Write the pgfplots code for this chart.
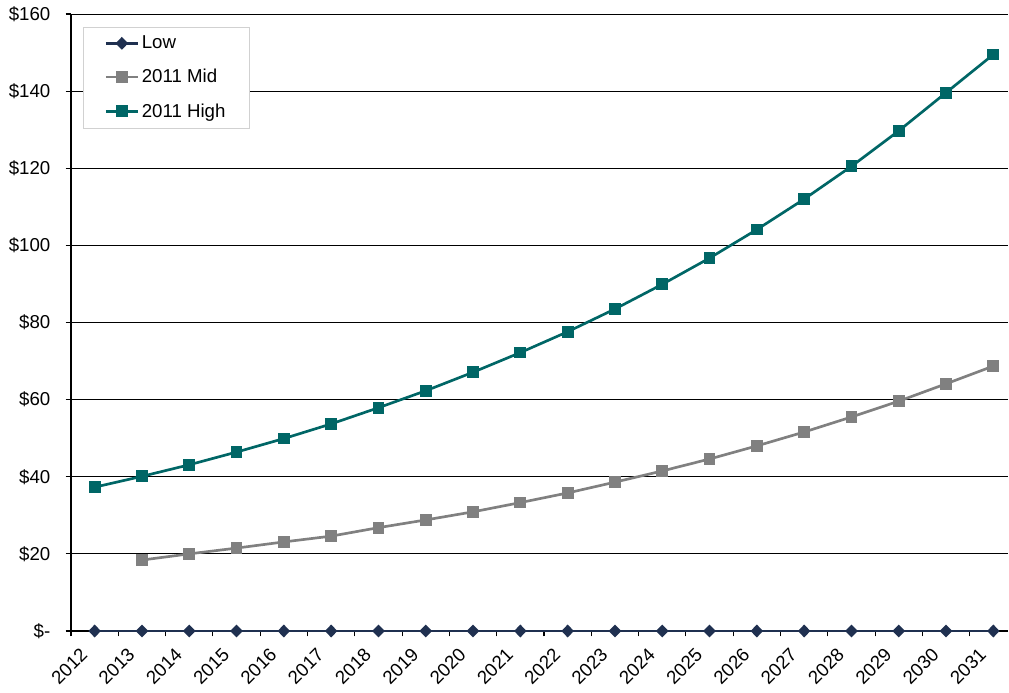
\documentclass[border=0pt]{standalone}
\usepackage{pgfplots}
\pgfplotsset{compat=1.18}
\usepackage{fontspec}
\setmainfont{Liberation Sans}
\definecolor{lowc}{HTML}{1F3050}
\definecolor{midc}{HTML}{808080}
\definecolor{highc}{HTML}{006666}
\begin{document}
\begin{tikzpicture}
\begin{axis}[
  scale only axis,
  width=702.75pt, height=462.75pt,
  xmin=-0.5, xmax=19.31,
  ymin=0, ymax=160,
  axis x line=bottom, axis y line=left,
  axis line style={-, black, line width=0.8pt},
  xtick={0,...,19},
  xticklabels={2012,2013,2014,2015,2016,2017,2018,2019,2020,2021,2022,2023,2024,2025,2026,2027,2028,2029,2030,2031},
  minor xtick={-0.5,0.5,...,19.5},
  major x tick style={draw=none},
  minor x tick style={black, line width=0.8pt},
  minor tick length=4pt,
  major tick length=4pt,
  tick align=outside,
  ytick={0,20,...,160},
  yticklabels={\$-,\$20,\$40,\$60,\$80,\$100,\$120,\$140,\$160},
  ytick style={black, line width=0.8pt},
  ymajorgrids,
  grid style={black, line width=0.6pt},
  tick label style={font=\fontsize{14}{16}\selectfont},
  xticklabel style={xshift=-5.5pt, yshift=-9pt, rotate=45, anchor=east},
  yticklabel style={xshift=-8pt},
  legend style={at={(0.0128,0.979)}, anchor=north west, draw=black!18, fill=white,
    font=\fontsize{14}{16}\selectfont, row sep=10pt, inner xsep=16pt, inner ysep=4.5pt},
  legend cell align=left,
  legend image code/.code={\draw[mark repeat=2,mark phase=2] plot coordinates {(0cm,0cm) (0.42cm,0cm) (0.84cm,0cm)};},
]
\addplot[lowc, line width=2pt, mark=diamond*, mark size=3.4pt, mark options={solid, xscale=1.3}] coordinates {
(0,0) (1,0) (2,0) (3,0) (4,0) (5,0) (6,0) (7,0) (8,0) (9,0) (10,0) (11,0) (12,0) (13,0) (14,0) (15,0) (16,0) (17,0) (18,0) (19,0)};
\addlegendentry{Low}
\addplot[midc, line width=2pt, mark=square*, mark size=3.4pt] coordinates {
(1,18.4) (2,20.0) (3,21.5) (4,23.1) (5,24.6) (6,26.8) (7,28.8) (8,30.9) (9,33.3) (10,35.8) (11,38.6) (12,41.5) (13,44.6) (14,48.0) (15,51.6) (16,55.5) (17,59.6) (18,64.1) (19,68.7)};
\addlegendentry{2011 Mid}
\addplot[highc, line width=2pt, mark=square*, mark size=3.4pt] coordinates {
(0,37.3) (1,40.1) (2,43.1) (3,46.4) (4,49.9) (5,53.7) (6,57.9) (7,62.3) (8,67.1) (9,72.2) (10,77.6) (11,83.5) (12,89.9) (13,96.7) (14,104.1) (15,112.0) (16,120.5) (17,129.7) (18,139.6) (19,149.5)};
\addlegendentry{2011 High}
\end{axis}
\pgfresetboundingbox
\path[use as bounding box] ([xshift=-53.25pt,yshift=-45.75pt]current axis.south west) rectangle ([xshift=0.75pt,yshift=10.5pt]current axis.north east);
\end{tikzpicture}
\end{document}
